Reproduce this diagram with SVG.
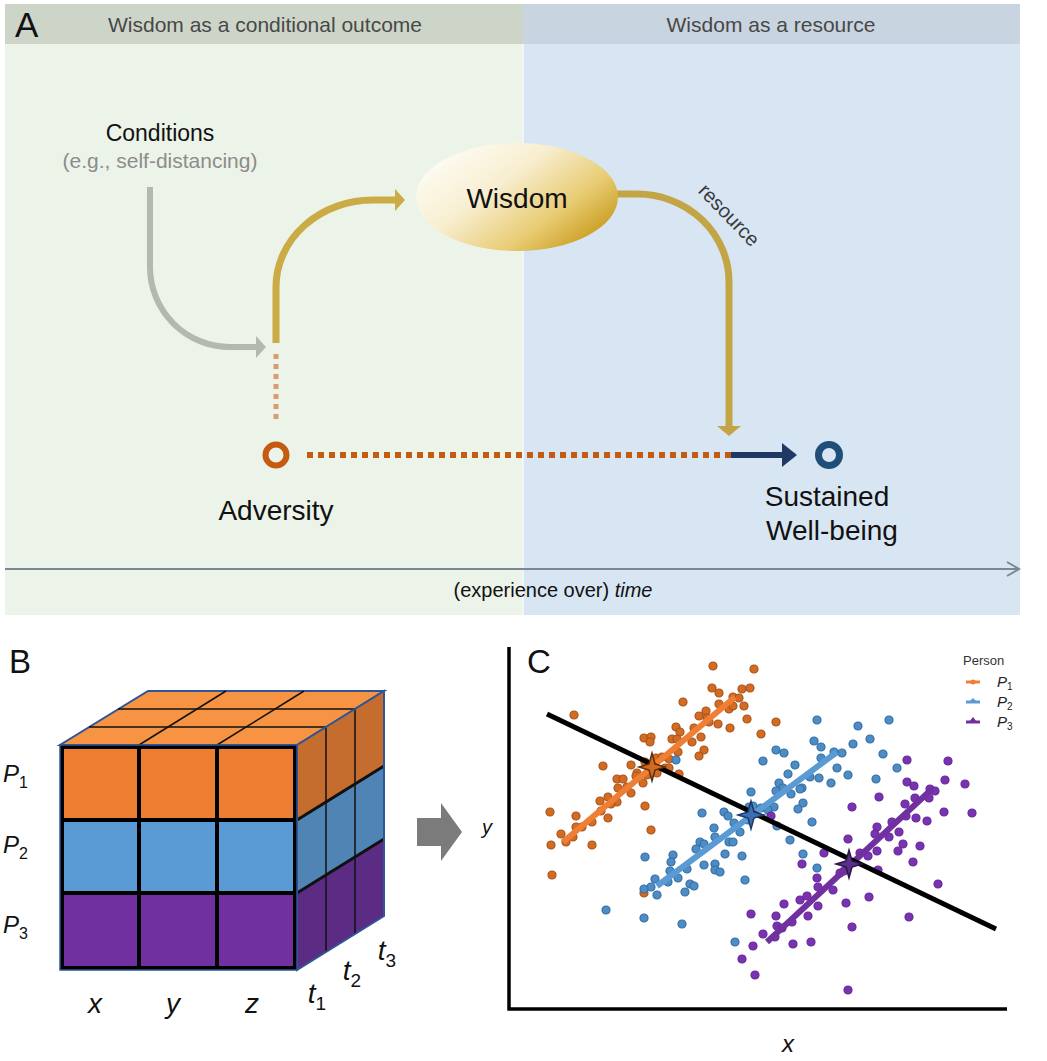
<svg xmlns="http://www.w3.org/2000/svg" width="1047" height="1061" viewBox="0 0 1047 1061">
<defs>
<style>
text{font-family:"Liberation Sans",Arial,sans-serif;}
.hdr{font-size:21px;fill:#484848;text-anchor:middle;}
.big{font-size:28px;fill:#111;text-anchor:middle;}
.panel{font-size:33px;fill:#111;}
.it{font-style:italic;}
.od{fill:#d36b22;stroke:#a9541a;stroke-width:1.2;}
.bd{fill:#4e8cc6;stroke:#336fa3;stroke-width:1.2;}
.pd{fill:#7a33b0;stroke:#65289a;stroke-width:1.2;}
.lab{font-size:24px;fill:#111;font-style:italic;}
.sub{font-size:16px;font-style:normal;}
.ax{font-size:28px;fill:#111;font-style:italic;text-anchor:middle;}
</style>
<linearGradient id="wg" x1="0.1" y1="0.15" x2="1" y2="0.8">
<stop offset="0" stop-color="#fdfbf2"/>
<stop offset="0.35" stop-color="#f8eed0"/>
<stop offset="0.7" stop-color="#e8cb72"/>
<stop offset="1" stop-color="#c49613"/>
</linearGradient>
<marker id="mGold" viewBox="0 0 10 22" refX="1" refY="11" markerWidth="10" markerHeight="22" markerUnits="userSpaceOnUse" orient="auto"><path d="M0,0 L10,11 L0,22 Z" fill="#cbab45"/></marker>
<marker id="mGold2" viewBox="0 0 10 24" refX="1" refY="12" markerWidth="10" markerHeight="24" markerUnits="userSpaceOnUse" orient="auto"><path d="M0,0 L10,12 L0,24 Z" fill="#c4a546"/></marker>
<marker id="mGray" viewBox="0 0 10 22" refX="1" refY="11" markerWidth="10" markerHeight="22" markerUnits="userSpaceOnUse" orient="auto"><path d="M0,0 L10,11 L0,22 Z" fill="#b3b8b0"/></marker>
<marker id="mNavy" viewBox="0 0 15 24" refX="1" refY="12" markerWidth="15" markerHeight="24" markerUnits="userSpaceOnUse" orient="auto"><path d="M0,0 L15,12 L0,24 Z" fill="#203864"/></marker>
<path id="star" d="M0,-14 L3,-3 L13,0 L3,3 L0,14 L-3,3 L-13,0 L-3,-3 Z"/>
</defs>

<!-- Panel A backgrounds -->
<g id="panelA-bg">
<rect x="5" y="4" width="518" height="40" fill="#cdd5c9"/>
<rect x="523" y="4" width="497" height="40" fill="#c8d4df"/>
<rect x="5" y="44" width="518" height="571" fill="#ecf3e8"/>
<rect x="523" y="44" width="497" height="571" fill="#d8e6f3"/>
<line x1="523" y1="44" x2="523" y2="615" stroke="#ffffff" stroke-width="1"/>
<text x="15" y="37" style="font-size:35px;fill:#111;">A</text>
<text class="hdr" x="265" y="32">Wisdom as a conditional outcome</text>
<text class="hdr" x="771" y="32">Wisdom as a resource</text>
</g>

<!-- Connectors -->
<g id="connectors" fill="none">
<path d="M150,187 V267 A80,80 0 0 0 230,347 H257" stroke="#b3b8b0" stroke-width="6" marker-end="url(#mGray)"/>
<path d="M276,343 V287 A97,87 0 0 1 373,200 H396" stroke="#cbab45" stroke-width="7" marker-end="url(#mGold)"/>
<path d="M616,194 H637 A92,88 0 0 1 729,282 V427" stroke="#c4a546" stroke-width="7" marker-end="url(#mGold2)"/>
<line x1="276" y1="354" x2="276" y2="422" stroke="#dd9a70" stroke-width="5" stroke-dasharray="5,5"/>
<line x1="307" y1="455" x2="731" y2="455" stroke="#c55a11" stroke-width="6" stroke-dasharray="6,5"/>
<line x1="731" y1="455" x2="783" y2="455" stroke="#203864" stroke-width="6" marker-end="url(#mNavy)"/>
<line x1="5" y1="569" x2="1019" y2="569" stroke="#7a8795" stroke-width="2"/>
<polyline points="1007,562 1019,569 1007,576" stroke="#7a8795" stroke-width="2"/>
<text x="728" y="216" transform="rotate(46 728 216)" style="font-size:20px;fill:#3a3a3a;text-anchor:middle;" dominant-baseline="middle">resource</text>
</g>

<g id="node-conditions">
<text x="160" y="141" style="font-size:23px;fill:#111;text-anchor:middle;">Conditions</text>
<text x="160" y="168" style="font-size:21px;fill:#8c8c8c;text-anchor:middle;">(e.g., self-distancing)</text>
</g>
<g id="node-wisdom">
<ellipse cx="517" cy="197" rx="101" ry="54" fill="url(#wg)"/>
<text x="517" y="208" style="font-size:28px;fill:#111;text-anchor:middle;">Wisdom</text>
</g>
<g id="node-adversity">
<circle cx="276" cy="455" r="10.5" fill="none" stroke="#c55a11" stroke-width="6"/>
<text class="big" x="276" y="520">Adversity</text>
</g>
<g id="node-wellbeing">
<circle cx="829" cy="455" r="10.5" fill="none" stroke="#1f4e79" stroke-width="7"/>
<text class="big" x="827" y="506">Sustained</text>
<text class="big" x="832" y="540">Well-being</text>
</g>
<g id="time-label">
<text x="553" y="597" style="font-size:20px;fill:#111;text-anchor:middle;">(experience over) <tspan class="it">time</tspan></text>
</g>

<!-- Panel B -->
<g id="panelB">
<text class="panel" x="9" y="673">B</text>
<polygon points="60,745 297,745 384,691 148,691" fill="#f79443" stroke="#2f5597" stroke-width="2"/>
<g stroke="#111" stroke-width="1.5">
<line x1="89" y1="727" x2="326" y2="727"/>
<line x1="118" y1="709" x2="355" y2="709"/>
<line x1="139" y1="745" x2="226" y2="691"/>
<line x1="217" y1="745" x2="304" y2="691"/>
</g>
<polygon points="297,745 384,691 384,766 297,820" fill="#c56d2f"/>
<polygon points="297,820 384,766 384,839 297,893" fill="#4f84b5"/>
<polygon points="297,893 384,839 384,916 297,970" fill="#5c2c84"/>
<g stroke="#111" stroke-width="1.5">
<line x1="326" y1="727" x2="326" y2="952"/>
<line x1="355" y1="709" x2="355" y2="934"/>
</g>
<g stroke="#111" stroke-width="3">
<line x1="297" y1="820" x2="384" y2="766"/>
<line x1="297" y1="893" x2="384" y2="839"/>
</g>
<polygon points="297,745 384,691 384,916 297,970" fill="none" stroke="#2f5597" stroke-width="2"/>
<rect x="60" y="745" width="237" height="75" fill="#ed7d31"/>
<rect x="60" y="820" width="237" height="73" fill="#5b9bd5"/>
<rect x="60" y="893" width="237" height="77" fill="#7030a0"/>
<g stroke="#000" stroke-width="4" fill="none">
<rect x="62" y="747" width="233" height="221"/>
<line x1="62" y1="820" x2="295" y2="820"/>
<line x1="62" y1="893" x2="295" y2="893"/>
<line x1="139" y1="747" x2="139" y2="968"/>
<line x1="217" y1="747" x2="217" y2="968"/>
</g>
<rect x="60" y="745" width="237" height="225" fill="none" stroke="#2f5597" stroke-width="1.5"/>
<text class="lab" x="3" y="782">P<tspan class="sub" dy="6">1</tspan></text>
<text class="lab" x="3" y="853">P<tspan class="sub" dy="6">2</tspan></text>
<text class="lab" x="3" y="933">P<tspan class="sub" dy="6">3</tspan></text>
<text class="ax" x="95" y="1013">x</text>
<text class="ax" x="173" y="1013">y</text>
<text class="ax" x="252" y="1013">z</text>
<text class="ax" x="317" y="1003">t<tspan style="font-size:19px;font-style:normal;" dy="7">1</tspan></text>
<text class="ax" x="352" y="980">t<tspan style="font-size:19px;font-style:normal;" dy="7">2</tspan></text>
<text class="ax" x="387" y="960">t<tspan style="font-size:19px;font-style:normal;" dy="7">3</tspan></text>
</g>

<g id="block-arrow">
<polygon points="417,818 441,818 441,803 462,832 441,861 441,846 417,846" fill="#7b7b7b"/>
</g>

<!-- Panel C -->
<g id="panelC">
<text class="panel" x="527" y="673">C</text>
<polyline points="509,647 509,1009 1007,1009" fill="none" stroke="#000" stroke-width="3.5"/>
<text x="482" y="834" style="font-size:20px;font-style:italic;fill:#111;">y</text>
<text x="788" y="1052" style="font-size:24px;font-style:italic;fill:#111;text-anchor:middle;">x</text>

<g id="dots-p1" class="od">
<circle cx="713" cy="666" r="4"/><circle cx="754" cy="669" r="4"/><circle cx="712" cy="688" r="4"/><circle cx="719" cy="693" r="4"/>
<circle cx="742" cy="689" r="4"/><circle cx="750" cy="688" r="4"/><circle cx="683" cy="702" r="4"/><circle cx="733" cy="697" r="4"/>
<circle cx="739" cy="698" r="4"/><circle cx="729" cy="709" r="4"/><circle cx="733" cy="706" r="4"/><circle cx="744" cy="706" r="4"/>
<circle cx="699" cy="716" r="4"/><circle cx="706" cy="711" r="4"/><circle cx="707" cy="718" r="4"/><circle cx="709" cy="722" r="4"/>
<circle cx="719" cy="704" r="4"/><circle cx="574" cy="715" r="4"/><circle cx="747" cy="719" r="4"/><circle cx="718" cy="724" r="4"/>
<circle cx="730" cy="728" r="4"/><circle cx="776" cy="722" r="4"/><circle cx="761" cy="734" r="4"/><circle cx="676" cy="727" r="4"/>
<circle cx="680" cy="732" r="4"/><circle cx="694" cy="728" r="4"/><circle cx="672" cy="739" r="4"/><circle cx="677" cy="739" r="4"/>
<circle cx="692" cy="742" r="4"/><circle cx="701" cy="737" r="4"/><circle cx="644" cy="738" r="4"/><circle cx="651" cy="737" r="4"/>
<circle cx="650" cy="742" r="4"/><circle cx="704" cy="750" r="4"/><circle cx="699" cy="756" r="4"/><circle cx="678" cy="752" r="4"/>
<circle cx="645" cy="762" r="4"/><circle cx="656" cy="758" r="4"/><circle cx="662" cy="757" r="4"/><circle cx="669" cy="759" r="4"/>
<circle cx="603" cy="766" r="4"/><circle cx="631" cy="765" r="4"/><circle cx="665" cy="768" r="4"/><circle cx="669" cy="768" r="4"/>
<circle cx="637" cy="773" r="4"/><circle cx="647" cy="775" r="4"/><circle cx="657" cy="773" r="4"/><circle cx="679" cy="774" r="4"/>
<circle cx="636" cy="776" r="4"/><circle cx="617" cy="779" r="4"/><circle cx="623" cy="779" r="4"/><circle cx="627" cy="787" r="4"/>
<circle cx="643" cy="783" r="4"/><circle cx="618" cy="788" r="4"/><circle cx="631" cy="793" r="4"/><circle cx="608" cy="797" r="4"/>
<circle cx="600" cy="801" r="4"/><circle cx="617" cy="802" r="4"/><circle cx="611" cy="804" r="4"/><circle cx="601" cy="811" r="4"/>
<circle cx="645" cy="806" r="4"/><circle cx="550" cy="812" r="4"/><circle cx="576" cy="816" r="4"/><circle cx="592" cy="822" r="4"/>
<circle cx="582" cy="827" r="4"/><circle cx="576" cy="827" r="4"/><circle cx="608" cy="818" r="4"/><circle cx="561" cy="834" r="4"/>
<circle cx="573" cy="837" r="4"/><circle cx="566" cy="842" r="4"/><circle cx="592" cy="845" r="4"/><circle cx="551" cy="845" r="4"/>
<circle cx="651" cy="830" r="4"/><circle cx="552" cy="875" r="4"/><circle cx="644" cy="893" r="4"/>
</g>
<g id="dots-p2" class="bd">
<circle cx="817" cy="720" r="4"/><circle cx="889" cy="720" r="4"/><circle cx="858" cy="726" r="4"/><circle cx="870" cy="739" r="4"/>
<circle cx="814" cy="741" r="4"/><circle cx="821" cy="747" r="4"/><circle cx="853" cy="744" r="4"/><circle cx="842" cy="753" r="4"/>
<circle cx="776" cy="750" r="4"/><circle cx="784" cy="753" r="4"/><circle cx="883" cy="754" r="4"/><circle cx="821" cy="758" r="4"/>
<circle cx="834" cy="752" r="4"/><circle cx="763" cy="761" r="4"/><circle cx="795" cy="765" r="4"/><circle cx="897" cy="768" r="4"/>
<circle cx="837" cy="768" r="4"/><circle cx="848" cy="775" r="4"/><circle cx="788" cy="774" r="4"/><circle cx="810" cy="777" r="4"/>
<circle cx="819" cy="778" r="4"/><circle cx="831" cy="783" r="4"/><circle cx="876" cy="779" r="4"/><circle cx="779" cy="783" r="4"/>
<circle cx="802" cy="788" r="4"/><circle cx="783" cy="788" r="4"/><circle cx="776" cy="791" r="4"/><circle cx="751" cy="792" r="4"/>
<circle cx="800" cy="789" r="4"/><circle cx="791" cy="794" r="4"/><circle cx="803" cy="803" r="4"/><circle cx="798" cy="809" r="4"/>
<circle cx="774" cy="807" r="4"/><circle cx="812" cy="822" r="4"/><circle cx="777" cy="826" r="4"/><circle cx="749" cy="807" r="4"/>
<circle cx="753" cy="806" r="4"/><circle cx="761" cy="808" r="4"/><circle cx="768" cy="810" r="4"/><circle cx="724" cy="812" r="4"/>
<circle cx="728" cy="816" r="4"/><circle cx="702" cy="813" r="4"/><circle cx="748" cy="820" r="4"/><circle cx="734" cy="823" r="4"/>
<circle cx="740" cy="832" r="4"/><circle cx="714" cy="828" r="4"/><circle cx="715" cy="837" r="4"/><circle cx="700" cy="842" r="4"/>
<circle cx="704" cy="844" r="4"/><circle cx="696" cy="849" r="4"/><circle cx="729" cy="842" r="4"/><circle cx="733" cy="842" r="4"/>
<circle cx="725" cy="854" r="4"/><circle cx="742" cy="856" r="4"/><circle cx="790" cy="840" r="4"/><circle cx="803" cy="854" r="4"/>
<circle cx="817" cy="868" r="4"/><circle cx="673" cy="855" r="4"/><circle cx="671" cy="862" r="4"/><circle cx="645" cy="857" r="4"/>
<circle cx="670" cy="871" r="4"/><circle cx="687" cy="869" r="4"/><circle cx="704" cy="865" r="4"/><circle cx="715" cy="864" r="4"/>
<circle cx="715" cy="870" r="4"/><circle cx="720" cy="872" r="4"/><circle cx="655" cy="879" r="4"/><circle cx="678" cy="878" r="4"/>
<circle cx="668" cy="882" r="4"/><circle cx="690" cy="884" r="4"/><circle cx="694" cy="886" r="4"/><circle cx="685" cy="892" r="4"/>
<circle cx="745" cy="880" r="4"/><circle cx="651" cy="887" r="4"/><circle cx="644" cy="889" r="4"/><circle cx="657" cy="895" r="4"/>
<circle cx="606" cy="910" r="4"/><circle cx="644" cy="918" r="4"/><circle cx="682" cy="924" r="4"/><circle cx="735" cy="942" r="4"/>
<circle cx="676" cy="760" r="4"/>
</g>
<g id="dots-p3" class="pd">
<circle cx="907" cy="760" r="4"/><circle cx="948" cy="761" r="4"/><circle cx="965" cy="784" r="4"/><circle cx="907" cy="782" r="4"/>
<circle cx="914" cy="786" r="4"/><circle cx="945" cy="780" r="4"/><circle cx="930" cy="789" r="4"/><circle cx="935" cy="791" r="4"/>
<circle cx="879" cy="797" r="4"/><circle cx="929" cy="798" r="4"/><circle cx="915" cy="798" r="4"/><circle cx="905" cy="804" r="4"/>
<circle cx="852" cy="807" r="4"/><circle cx="944" cy="812" r="4"/><circle cx="972" cy="813" r="4"/><circle cx="916" cy="818" r="4"/>
<circle cx="927" cy="821" r="4"/><circle cx="906" cy="816" r="4"/><circle cx="771" cy="816" r="4"/><circle cx="892" cy="822" r="4"/>
<circle cx="877" cy="827" r="4"/><circle cx="875" cy="834" r="4"/><circle cx="889" cy="837" r="4"/><circle cx="899" cy="832" r="4"/>
<circle cx="848" cy="839" r="4"/><circle cx="903" cy="844" r="4"/><circle cx="920" cy="846" r="4"/><circle cx="898" cy="851" r="4"/>
<circle cx="877" cy="851" r="4"/><circle cx="860" cy="853" r="4"/><circle cx="868" cy="856" r="4"/><circle cx="824" cy="853" r="4"/>
<circle cx="913" cy="862" r="4"/><circle cx="802" cy="864" r="4"/><circle cx="878" cy="870" r="4"/><circle cx="840" cy="873" r="4"/>
<circle cx="844" cy="871" r="4"/><circle cx="817" cy="878" r="4"/><circle cx="818" cy="887" r="4"/><circle cx="833" cy="890" r="4"/>
<circle cx="938" cy="884" r="4"/><circle cx="800" cy="900" r="4"/><circle cx="807" cy="896" r="4"/><circle cx="784" cy="904" r="4"/>
<circle cx="818" cy="906" r="4"/><circle cx="846" cy="903" r="4"/><circle cx="869" cy="897" r="4"/><circle cx="776" cy="916" r="4"/>
<circle cx="792" cy="922" r="4"/><circle cx="808" cy="916" r="4"/><circle cx="909" cy="917" r="4"/><circle cx="777" cy="926" r="4"/>
<circle cx="782" cy="928" r="4"/><circle cx="852" cy="927" r="4"/><circle cx="763" cy="934" r="4"/><circle cx="775" cy="937" r="4"/>
<circle cx="751" cy="914" r="4"/><circle cx="753" cy="946" r="4"/><circle cx="793" cy="944" r="4"/><circle cx="811" cy="942" r="4"/>
<circle cx="742" cy="959" r="4"/><circle cx="755" cy="975" r="4"/><circle cx="848" cy="990" r="4"/>
</g>

<g id="fit-lines" stroke-linecap="butt">
<line x1="563" y1="842" x2="735" y2="697" stroke="#ee7f35" stroke-width="6"/>
<line x1="657" y1="886" x2="837" y2="752" stroke="#5b9bd5" stroke-width="6"/>
<line x1="767" y1="942" x2="932" y2="789" stroke="#7030a0" stroke-width="6"/>
<line x1="547" y1="714" x2="996" y2="929" stroke="#000" stroke-width="5"/>
</g>
<g id="stars" stroke-width="1.5">
<use href="#star" x="652" y="767" fill="#d2691e" stroke="#5a3010"/>
<use href="#star" x="751" y="815" fill="#3c6eb4" stroke="#1f3864"/>
<use href="#star" x="849" y="864" fill="#5b2d8c" stroke="#2a1540"/>
</g>

<g id="legend">
<text x="963" y="665" style="font-size:13px;fill:#333;">Person</text>
<line x1="966" y1="682" x2="980" y2="682" stroke="#ee7f35" stroke-width="3"/>
<circle cx="973" cy="682" r="2.5" fill="#ee7f35"/>
<line x1="966" y1="702" x2="980" y2="702" stroke="#5b9bd5" stroke-width="3"/>
<polygon points="969,702 973,698 977,702" fill="#5b9bd5"/>
<line x1="966" y1="722" x2="980" y2="722" stroke="#7030a0" stroke-width="3"/>
<polygon points="969,722 973,717 977,722" fill="#7030a0"/>
<text x="997" y="687" style="font-size:15px;font-style:italic;fill:#222;">P<tspan style="font-size:10px;font-style:normal;" dy="3">1</tspan></text>
<text x="997" y="707" style="font-size:15px;font-style:italic;fill:#222;">P<tspan style="font-size:10px;font-style:normal;" dy="3">2</tspan></text>
<text x="997" y="727" style="font-size:15px;font-style:italic;fill:#222;">P<tspan style="font-size:10px;font-style:normal;" dy="3">3</tspan></text>
</g>
</g>
</svg>
